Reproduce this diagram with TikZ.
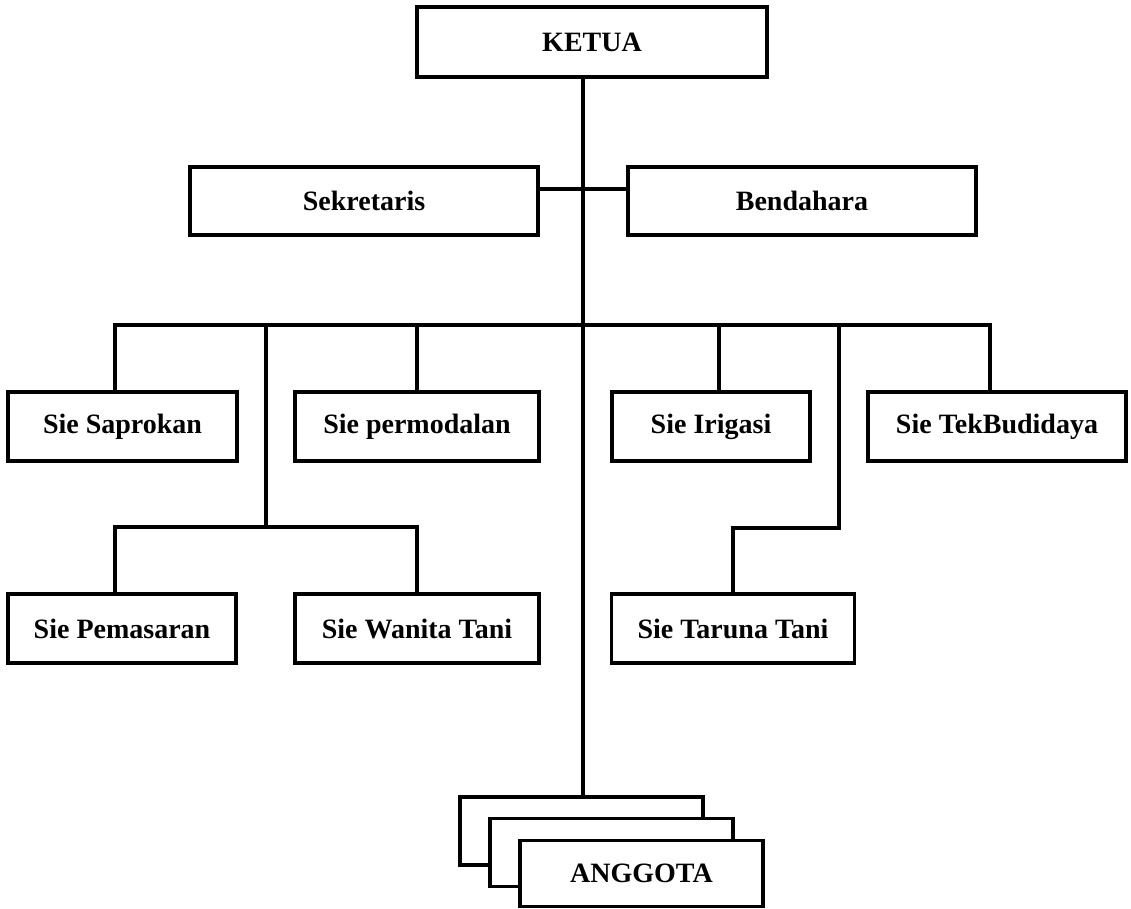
\documentclass[tikz,border=0pt]{standalone}
\usepackage{fontspec}
\setmainfont{Liberation Serif}
\usepackage{tikz}
\definecolor{orgblack}{RGB}{0,0,0}

\begin{document}
\begin{tikzpicture}[x=1pt, y=-1pt, line width=3.2pt, orgblack,
    unit/.style={draw, fill=white, inner sep=0pt, font=\bfseries\fontsize{28}{32}\selectfont, minimum height=69pt}]
  \useasboundingbox (0,0) rectangle (1131,909);
  \node[unit, minimum width=350pt, minimum height=70pt] (ketua) at (592,42) {KETUA};
  \node[unit, minimum width=348pt, minimum height=68pt] (sek) at (364,201) {Sekretaris};
  \node[unit, minimum width=348pt, minimum height=68pt] (ben) at (802,201) {Bendahara};
  \node[unit, minimum width=229pt] (sap) at (122.5,426.5) {Sie Saprokan};
  \node[unit, minimum width=244pt] (per) at (417,426.5) {Sie permodalan};
  \node[unit, minimum width=198pt] (iri) at (711,426.5) {Sie Irigasi};
  \node[unit, minimum width=258pt] (tek) at (997,426.5) {Sie TekBudidaya};
  \node[unit, minimum width=228pt] (pem) at (122,628.5) {Sie Pemasaran};
  \node[unit, minimum width=244pt] (wan) at (417,628.5) {Sie Wanita Tani};
  \node[unit, minimum width=243pt] (tar) at (733,628.5) {Sie Taruna Tani};
  \node[unit, minimum width=243pt, minimum height=68pt] (ang1) at (581.5,831) {};
  \node[unit, minimum width=243pt, minimum height=68pt] (ang2) at (611.5,852.5) {};
  \node[unit, minimum width=243pt, minimum height=66pt] (ang3) at (641.5,873.5) {ANGGOTA};
  \coordinate (spine) at (583,0);
  \coordinate (link) at (583,189);
  \coordinate (busL) at (115,325);
  \coordinate (busR) at (990,325);
  \coordinate (subM) at (266,527);
  \coordinate (subL) at (115,527);
  \coordinate (iriJ) at (719,325);
  \coordinate (tarJ) at (839,528);
  % lines
  \draw (ketua.south -| spine) -- (ang1.north -| spine);
  \draw (sek.east |- link) -- (ben.west |- link);
  \draw (sap.north -| busL) -- (busL) -- (busR) -- (tek.north -| busR);
  \draw (per.north) -- (per.north |- busL);
  \draw (iri.north -| iriJ) -- (iriJ);
  \draw (subM |- busL) -- (subM);
  \draw (pem.north -| subL) -- (subL) -| (wan.north);
  \draw (tarJ |- busL) -- (tarJ) -| (tar.north);
\end{tikzpicture}
\end{document}
